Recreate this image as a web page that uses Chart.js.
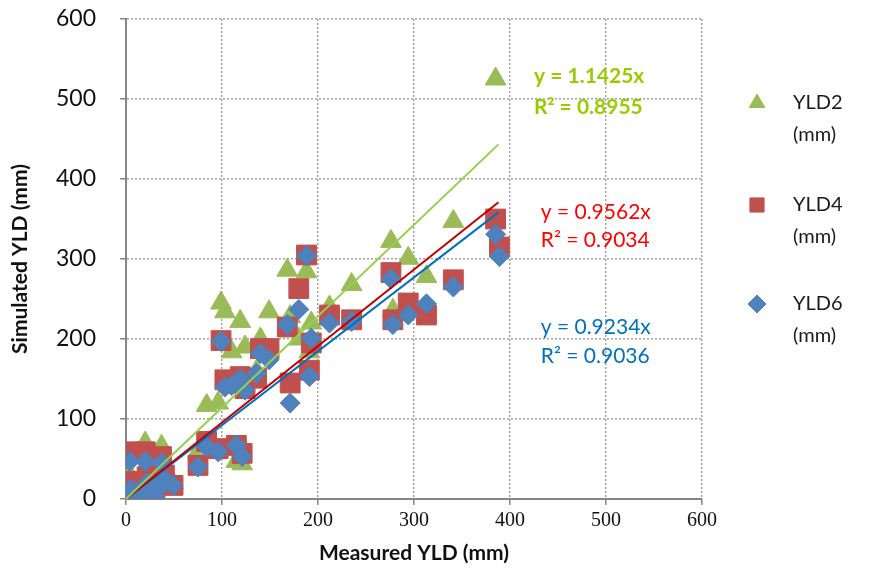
<!DOCTYPE html>
<html>
<head>
<meta charset="utf-8">
<script src="https://cdn.jsdelivr.net/npm/chart.js@4.4.0/dist/chart.umd.min.js"></script>
<style>
  html, body { margin: 0; padding: 0; background: #fff; }
</style>
</head>
<body>
<canvas id="yldChart" width="877" height="574"></canvas>
<script>
    // measured values shared by the three simulated series
    const measured = [0, 2, 4, 5, 8, 10, 12, 15, 18, 20, 22, 25, 28, 30, 33, 37, 40, 49, 75, 84, 96, 99, 103, 110, 115, 119, 121, 124, 136, 140, 149, 168, 171, 180, 188, 191, 193, 212, 235, 276, 278, 294, 313, 341, 385, 389];
    const yld2 = [2, 34, 30, 10, 5, 18, 8, 25, 12, 70, 30, 15, 20, 10, 25, 66, 35, 20, 59, 117, 120, 245, 234, 184, 47, 222, 44, 190, 160, 200, 234, 286, 228, 200, 284, 184, 220, 240, 268, 322, 236, 301, 278, 347, 525, 315];
    const yld4 = [3, 20, 59, 15, 4, 22, 12, 18, 6, 59, 28, 10, 22, 8, 18, 53, 30, 17, 42, 72, 63, 198, 149, 145, 67, 153, 57, 138, 151, 188, 188, 215, 145, 263, 305, 161, 195, 230, 224, 283, 224, 245, 230, 274, 350, 315];
    const yld6 = [1, 5, 47, 12, 2, 8, 4, 10, 3, 47, 20, 5, 12, 3, 12, 45, 25, 17, 40, 65, 59, 197, 140, 142, 67, 150, 53, 136, 157, 182, 174, 218, 120, 237, 304, 153, 201, 220, 222, 275, 218, 230, 244, 265, 331, 303];

    const seriesNames = ['YLD2 (mm)', 'YLD4 (mm)', 'YLD6 (mm)'];
    const slopes = [1.1425, 0.9562, 0.9234];
    const rSquared = [0.8955, 0.9034, 0.9036];
    const axisTicks = [0, 100, 200, 300, 400, 500, 600];
    const trendEnd = 388;

    const markerColors = ['#9bbb59', '#c0504d', '#4f81bd'];
    const markerStyles = ['triangle', 'rect', 'rectRot'];
    const markerRadius = [12, 14, 10];
    const lineColors = ['#92d050', '#c00000', '#0070c0'];
    const labelColors = ['#99cc00', '#ff0000', '#0070c0'];
    const labelSpots = [
      { x: 425, y: 529, gap: 31, weight: 'bold' },
      { x: 432, y: 358, gap: 28, weight: 'normal' },
      { x: 432, y: 215, gap: 29, weight: 'normal' }
    ];

    const simulated = [yld2, yld4, yld6];

    const pointSets = simulated.map((vals, i) => ({
      label: seriesNames[i],
      data: measured.map((m, j) => ({ x: m, y: vals[j] })),
      pointStyle: markerStyles[i],
      pointRadius: markerRadius[i],
      pointHoverRadius: markerRadius[i],
      backgroundColor: markerColors[i],
      borderColor: markerColors[i],
      borderWidth: 1,
      showLine: false,
      order: 3 - i
    }));

    const trendSets = slopes.map((s, i) => ({
      label: 'trend' + i,
      data: [{ x: 0, y: 0 }, { x: trendEnd, y: s * trendEnd }],
      showLine: true,
      pointRadius: 0,
      borderColor: lineColors[i],
      borderWidth: 2,
      order: 0
    }));

    const fitLabels = {
      id: 'fitLabels',
      afterDatasetsDraw(chart) {
        const { ctx, scales: { x, y } } = chart;
        ctx.save();
        ctx.textBaseline = 'middle';
        ctx.textAlign = 'left';
        labelSpots.forEach((p, i) => {
          const px = x.getPixelForValue(p.x);
          const py = y.getPixelForValue(p.y);
          ctx.fillStyle = labelColors[i];
          ctx.font = p.weight + ' 21px Lato';
          ctx.fillText('y = ' + slopes[i] + 'x', px, py);
          ctx.fillText('R² = ' + rSquared[i], px, py + p.gap);
        });
        ctx.restore();
      }
    };

    // legend on the right, two text lines per entry
    const sideLegend = {
      id: 'sideLegend',
      afterDraw(chart) {
        const { ctx } = chart;
        const rows = [103, 205, 304];
        ctx.save();
        rows.forEach((ry, i) => {
          ctx.fillStyle = markerColors[i];
          ctx.strokeStyle = markerColors[i];
          ctx.lineWidth = 1;
          Chart.helpers.drawPoint(ctx, {
            pointStyle: markerStyles[i],
            radius: [9, 10, 9][i],
            borderWidth: 1
          }, 757, ry);
          const parts = seriesNames[i].split(' ');
          ctx.fillStyle = '#1a1a1a';
          ctx.font = '20px Lato';
          ctx.textAlign = 'left';
          ctx.textBaseline = 'middle';
          ctx.fillText(parts[0], 793, ry);
          ctx.fillText(parts[1], 793, ry + 32);
        });
        ctx.restore();
      }
    };

    const yldChart = new Chart(document.getElementById('yldChart'), {
      type: 'scatter',
      data: {
        datasets: [...trendSets, ...pointSets]
      },
      options: {
        responsive: false,
        animation: false,
        layout: {
          padding: { top: 19, right: 175, left: 0, bottom: 0 }
        },
        plugins: {
          legend: { display: false },
          tooltip: { enabled: false }
        },
        scales: {
          x: {
            min: 0,
            max: 600,
            afterBuildTicks: s => { s.ticks = axisTicks.map(v => ({ value: v })); },
            afterFit: s => { s.height = 75; s.paddingLeft = 0; s.paddingRight = 0; },
            grid: {
              color: '#a0a0a0',
              lineWidth: 1.5,
              tickLength: 6,
              tickColor: '#868686',
              tickBorderDash: [],
              tickWidth: 1.5
            },
            border: { color: '#868686', width: 2, dash: [2, 2] },
            ticks: {
              color: '#111',
              padding: 4,
              maxRotation: 0,
              font: { family: 'Liberation Serif', size: 20 }
            },
            title: {
              display: true,
              text: 'Measured YLD (mm)',
              color: '#111',
              padding: { top: 0, bottom: 8 },
              font: { family: 'Lato', size: 21, weight: 'bold' }
            }
          },
          y: {
            min: 0,
            max: 600,
            afterBuildTicks: s => { s.ticks = axisTicks.map(v => ({ value: v })); },
            afterFit: s => { s.width = 126; s.paddingTop = 0; s.paddingBottom = 0; },
            grid: {
              color: '#a0a0a0',
              lineWidth: 1.5,
              tickLength: 6,
              tickColor: '#868686',
              tickBorderDash: [],
              tickWidth: 1.5
            },
            border: { color: '#868686', width: 2, dash: [2, 2] },
            ticks: {
              color: '#111',
              padding: 24,
              font: { family: 'Lato', size: 23 }
            },
            title: {
              display: true,
              text: 'Simulated YLD (mm)',
              color: '#111',
              padding: { top: 8, bottom: 0 },
              font: { family: 'Lato', size: 21, weight: 'bold' }
            }
          }
        }
      },
      plugins: [fitLabels, sideLegend]
    });
</script>
</body>
</html>
